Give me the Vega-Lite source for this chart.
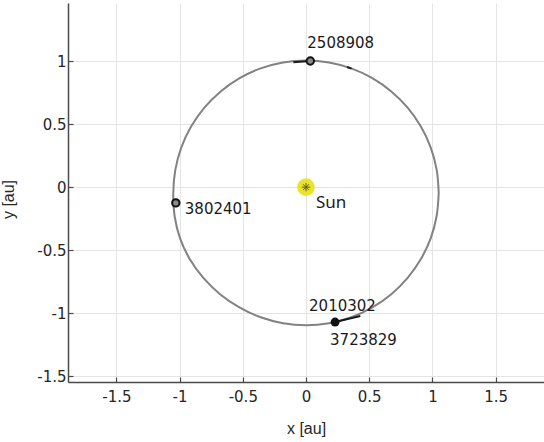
{
  "$schema": "https://vega.github.io/schema/vega-lite/v6.json",
  "width": 476,
  "height": 379,
  "autosize": {"type": "none"},
  "padding": {"left": 68, "top": 3, "right": 0, "bottom": 60},
  "background": "white",
  "config": {
    "view": {"stroke": null},
    "axis": {
      "grid": true,
      "gridColor": "#e4e4e4",
      "gridWidth": 1,
      "domainColor": "#4a4a4a",
      "domainWidth": 1.5,
      "tickColor": "#4a4a4a",
      "tickWidth": 1.2,
      "tickSize": -5,
      "labelFont": "DejaVu Sans",
      "labelFontSize": 15,
      "labelColor": "#262626",
      "titleFont": "Liberation Sans",
      "titleFontSize": 16,
      "titleFontWeight": "normal",
      "titleColor": "#262626"
    }
  },
  "datasets": {
    "orbit": [
      {"i": 0, "x": 1.05, "y": -0.045},
      {"i": 1, "x": 1.034, "y": 0.137},
      {"i": 2, "x": 0.987, "y": 0.314},
      {"i": 3, "x": 0.909, "y": 0.48},
      {"i": 4, "x": 0.804, "y": 0.63},
      {"i": 5, "x": 0.675, "y": 0.759},
      {"i": 6, "x": 0.525, "y": 0.864},
      {"i": 7, "x": 0.359, "y": 0.942},
      {"i": 8, "x": 0.182, "y": 0.989},
      {"i": 9, "x": 0.0, "y": 1.005},
      {"i": 10, "x": -0.182, "y": 0.989},
      {"i": 11, "x": -0.359, "y": 0.942},
      {"i": 12, "x": -0.525, "y": 0.864},
      {"i": 13, "x": -0.675, "y": 0.759},
      {"i": 14, "x": -0.804, "y": 0.63},
      {"i": 15, "x": -0.909, "y": 0.48},
      {"i": 16, "x": -0.987, "y": 0.314},
      {"i": 17, "x": -1.034, "y": 0.137},
      {"i": 18, "x": -1.05, "y": -0.045},
      {"i": 19, "x": -1.04, "y": -0.227},
      {"i": 20, "x": -0.997, "y": -0.404},
      {"i": 21, "x": -0.92, "y": -0.57},
      {"i": 22, "x": -0.812, "y": -0.72},
      {"i": 23, "x": -0.68, "y": -0.849},
      {"i": 24, "x": -0.527, "y": -0.954},
      {"i": 25, "x": -0.359, "y": -1.032},
      {"i": 26, "x": -0.182, "y": -1.079},
      {"i": 27, "x": 0.0, "y": -1.095},
      {"i": 28, "x": 0.182, "y": -1.079},
      {"i": 29, "x": 0.359, "y": -1.032},
      {"i": 30, "x": 0.525, "y": -0.954},
      {"i": 31, "x": 0.675, "y": -0.849},
      {"i": 32, "x": 0.804, "y": -0.72},
      {"i": 33, "x": 0.909, "y": -0.57},
      {"i": 34, "x": 0.987, "y": -0.404},
      {"i": 35, "x": 1.034, "y": -0.227},
      {"i": 36, "x": 1.05, "y": -0.045}
    ],
    "tracks": [
      {"seg": "a", "i": 0, "x": -0.1, "y": 0.99},
      {"seg": "a", "i": 1, "x": 0.034, "y": 1.0},
      {"seg": "b", "i": 0, "x": 0.23, "y": -1.07},
      {"seg": "b", "i": 1, "x": 0.43, "y": -1.022},
      {"seg": "c", "i": 0, "x": 0.325, "y": 0.952},
      {"seg": "c", "i": 1, "x": 0.36, "y": 0.94}
    ],
    "bodies": [
      {"name": "Sun", "x": 0, "y": 0},
      {"name": "2508908", "x": 0.034, "y": 1.0},
      {"name": "3802401", "x": -1.03, "y": -0.125},
      {"name": "2010302", "x": 0.23, "y": -1.07},
      {"name": "3723829", "x": 0.23, "y": -1.07}
    ]
  },
  "encoding": {
    "x": {
      "field": "x",
      "type": "quantitative",
      "scale": {"domain": [-1.883, 1.883], "nice": false, "zero": false},
      "axis": {
        "title": "x [au]",
        "values": [-1.5, -1, -0.5, 0, 0.5, 1, 1.5],
        "labelExpr": "datum.value + ''",
        "labelPadding": 12,
        "titlePadding": 16
      }
    },
    "y": {
      "field": "y",
      "type": "quantitative",
      "scale": {"domain": [-1.545, 1.46], "nice": false, "zero": false},
      "axis": {
        "title": "y [au]",
        "values": [-1.5, -1, -0.5, 0, 0.5, 1],
        "labelExpr": "datum.value + ''",
        "labelPadding": 7,
        "titleX": -52,
        "titleY": 196
      }
    }
  },
  "layer": [
    {
      "data": {"name": "orbit"},
      "mark": {"type": "line", "interpolate": "cardinal", "color": "#828282", "strokeWidth": 2},
      "encoding": {"order": {"field": "i", "type": "quantitative"}}
    },
    {
      "data": {"name": "tracks"},
      "mark": {"type": "line", "color": "#1a1a1a", "strokeWidth": 2},
      "encoding": {
        "detail": {"field": "seg"},
        "order": {"field": "i", "type": "quantitative"}
      }
    },
    {
      "data": {"name": "bodies"},
      "transform": [{"filter": "datum.name === 'Sun'"}],
      "mark": {"type": "point", "shape": "circle", "filled": true, "color": "#e9e21e", "opacity": 0.95, "size": 310}
    },
    {
      "data": {"name": "bodies"},
      "transform": [{"filter": "datum.name === 'Sun'"}],
      "mark": {
        "type": "point",
        "shape": "M-1,0L1,0M0,-1L0,1M-0.7,-0.7L0.7,0.7M-0.7,0.7L0.7,-0.7",
        "filled": false,
        "color": "#222222",
        "strokeWidth": 1,
        "size": 70
      }
    },
    {
      "data": {"name": "bodies"},
      "transform": [{"filter": "datum.name === '2508908' || datum.name === '3802401'"}],
      "mark": {"type": "point", "shape": "circle", "filled": true, "fill": "#8a8a8a", "stroke": "#111111", "strokeWidth": 2, "size": 55, "opacity": 1}
    },
    {
      "data": {"name": "bodies"},
      "transform": [{"filter": "datum.name === '3723829'"}],
      "mark": {"type": "point", "shape": "circle", "filled": true, "color": "#111111", "size": 80, "opacity": 1}
    },
    {
      "data": {"name": "bodies"},
      "transform": [{"filter": "datum.name === '2508908'"}],
      "mark": {"type": "text", "align": "left", "baseline": "middle", "dx": -3, "dy": -18, "font": "DejaVu Sans", "fontSize": 15, "color": "#1a1a1a"},
      "encoding": {"text": {"field": "name"}}
    },
    {
      "data": {"name": "bodies"},
      "transform": [{"filter": "datum.name === '3802401'"}],
      "mark": {"type": "text", "align": "left", "baseline": "middle", "dx": 9, "dy": 6, "font": "DejaVu Sans", "fontSize": 15, "color": "#1a1a1a"},
      "encoding": {"text": {"field": "name"}}
    },
    {
      "data": {"name": "bodies"},
      "transform": [{"filter": "datum.name === '2010302'"}],
      "mark": {"type": "text", "align": "left", "baseline": "middle", "dx": -26, "dy": -16, "font": "DejaVu Sans", "fontSize": 15, "color": "#1a1a1a"},
      "encoding": {"text": {"field": "name"}}
    },
    {
      "data": {"name": "bodies"},
      "transform": [{"filter": "datum.name === '3723829'"}],
      "mark": {"type": "text", "align": "left", "baseline": "middle", "dx": -5, "dy": 18, "font": "DejaVu Sans", "fontSize": 15, "color": "#1a1a1a"},
      "encoding": {"text": {"field": "name"}}
    },
    {
      "data": {"name": "bodies"},
      "transform": [{"filter": "datum.name === 'Sun'"}],
      "mark": {"type": "text", "align": "left", "baseline": "middle", "dx": 10, "dy": 16, "font": "Noto Sans", "fontSize": 17, "color": "#1a1a1a"},
      "encoding": {"text": {"field": "name"}}
    }
  ]
}
